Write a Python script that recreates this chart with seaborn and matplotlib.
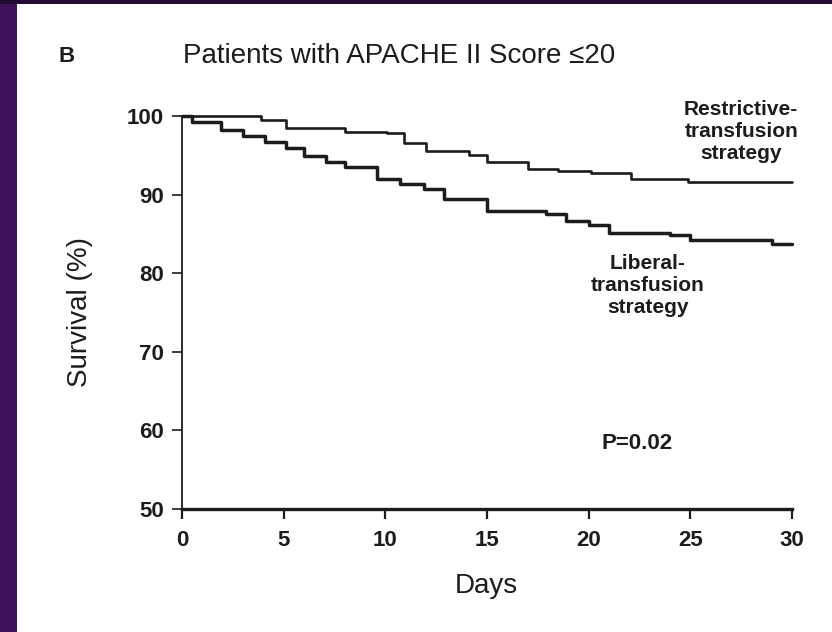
import matplotlib
matplotlib.use("Agg")
import matplotlib.pyplot as plt
import seaborn as sns
import pandas as pd
from matplotlib.patches import Rectangle

# ---- data (Kaplan-Meier survival, %) ----
days_restrictive = [0, 3.9, 5.1, 8.0, 10.1, 10.9, 12.0, 14.1, 15.0, 17.0, 18.5, 20.1, 22.1, 24.9, 30.0]
surv_restrictive = [100, 99.5, 98.5, 98.0, 97.8, 96.6, 95.6, 95.1, 94.1, 93.2, 93.0, 92.7, 92.0, 91.6, 91.6]

days_liberal = [0, 0.5, 1.9, 3.0, 4.1, 5.1, 6.0, 7.1, 8.0, 9.6, 10.7, 11.9, 12.9, 15.0,
                17.9, 18.9, 20.0, 21.0, 24.0, 25.0, 29.0, 30.0]
surv_liberal = [100, 99.3, 98.2, 97.4, 96.7, 95.9, 94.9, 94.1, 93.5, 92.0, 91.4, 90.7, 89.5, 87.9,
                87.5, 86.7, 86.1, 85.1, 84.8, 84.2, 83.7, 83.7]

x_ticks = [0, 5, 10, 15, 20, 25, 30]
y_ticks = [50, 60, 70, 80, 90, 100]
panel_letter = "B"
title_text = "Patients with APACHE II Score \u226420"
x_label = "Days"
y_label = "Survival (%)"
label_restrictive = "Restrictive-\ntransfusion\nstrategy"
label_liberal = "Liberal-\ntransfusion\nstrategy"
p_text = "P=0.02"

df_r = pd.DataFrame({"day": days_restrictive, "survival": surv_restrictive})
df_l = pd.DataFrame({"day": days_liberal, "survival": surv_liberal})

sns.set_theme(style="ticks")
plt.rcParams['font.family'] = ['Liberation Sans', 'DejaVu Sans']

ink = "#1c1c1c"
W, H = 832, 632
fig = plt.figure(figsize=(W / 100, H / 100), dpi=100, facecolor="#41105a")
# white page inside purple frame
fig.patches.append(Rectangle((17 / W, 0), 1, (H - 4) / H, transform=fig.transFigure,
                             facecolor="white", edgecolor="none", zorder=-10))
fig.patches.append(Rectangle((0, (H - 4) / H), 1, 4 / H, transform=fig.transFigure,
                             facecolor="#230b31", edgecolor="none", zorder=-10))

ax_l, ax_r, ax_t, ax_b = 182, 792, 116, 509
ax = fig.add_axes([ax_l / W, 1 - ax_b / H, (ax_r - ax_l) / W, (ax_b - ax_t) / H])
ax.set_facecolor("none")
ax.set_zorder(2)

sns.lineplot(data=df_r, x="day", y="survival", ax=ax, color=ink, linewidth=1.9,
             drawstyle="steps-post", estimator=None, sort=False, clip_on=False)
sns.lineplot(data=df_l, x="day", y="survival", ax=ax, color=ink, linewidth=2.5,
             drawstyle="steps-post", estimator=None, sort=False, clip_on=False)

ax.set_xlim(0, 30)
ax.set_ylim(50, 100)
ax.set_xticks(x_ticks)
ax.set_yticks(y_ticks)
ax.set_xlabel("")
ax.set_ylabel("")
sns.despine(ax=ax)
ax.spines["left"].set_linewidth(1.3)
ax.spines["left"].set_color(ink)
ax.spines["bottom"].set_linewidth(2.4)
ax.spines["bottom"].set_color(ink)
ax.tick_params(axis="y", direction="out", length=7, width=1.2, pad=6, labelsize=16, colors=ink)
ax.tick_params(axis="x", direction="out", length=7, width=1.6, pad=8, labelsize=16, colors=ink)
for lbl in ax.get_xticklabels() + ax.get_yticklabels():
    lbl.set_fontweight("bold")

# texts
fig.text(67 / W, 1 - 56 / H, panel_letter, ha="center", va="center", fontsize=16,
         fontweight="bold", color=ink)
fig.text(183 / W, 1 - 56 / H, title_text, ha="left", va="center", fontsize=20, color=ink)
fig.text(80 / W, 1 - 312 / H, y_label, rotation=90, ha="center", va="center", fontsize=20, color=ink)
fig.text(486 / W, 1 - 586 / H, x_label, ha="center", va="center", fontsize=20, color=ink)

ax.text(27.5, 98.0, label_restrictive, ha="center", va="center", fontsize=15,
        fontweight="bold", linespacing=1.2, color=ink, clip_on=False)
ax.text(22.9, 78.4, label_liberal, ha="center", va="center", fontsize=15,
        fontweight="bold", linespacing=1.2, color=ink)
ax.text(22.4, 58.3, p_text, ha="center", va="center", fontsize=16,
        fontweight="bold", color=ink)

fig.savefig("out.png", dpi=100, facecolor=fig.get_facecolor())
